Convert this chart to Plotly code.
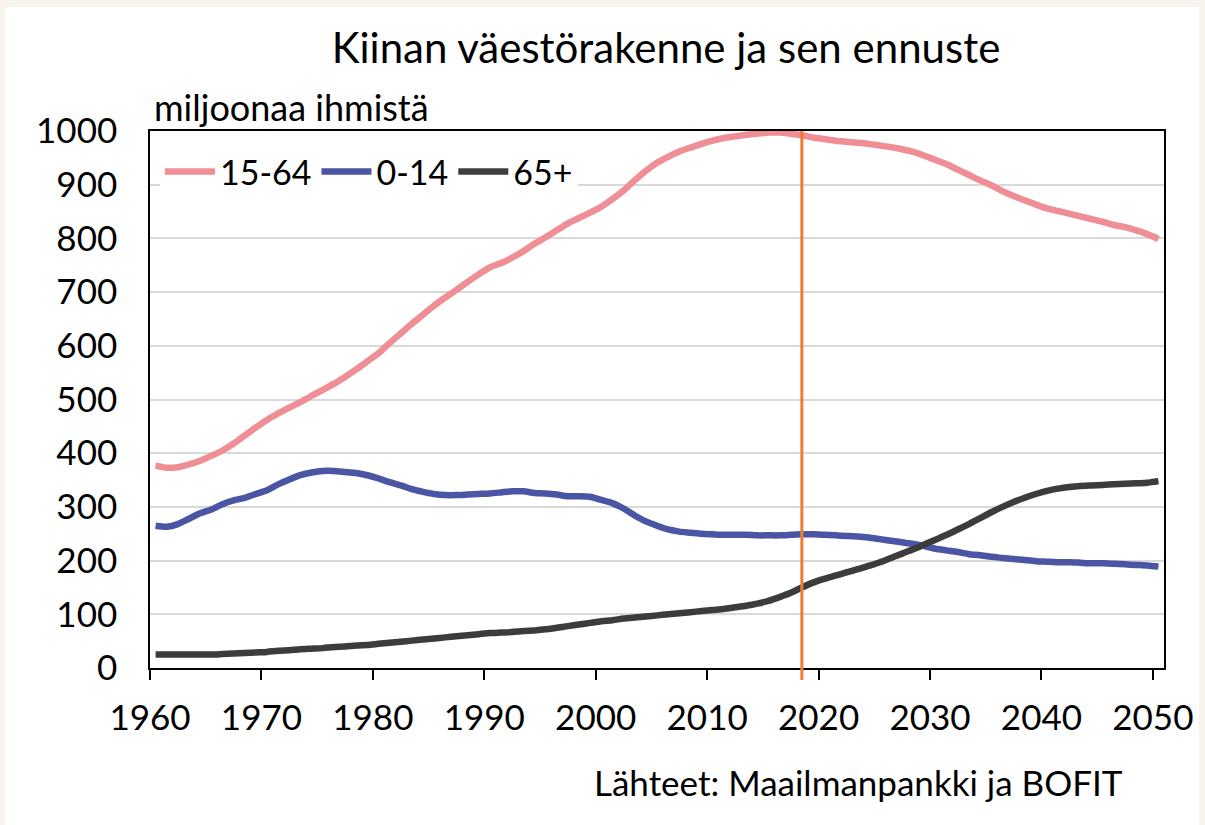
import plotly.graph_objects as go

years = list(range(1960, 2051))

working_age = [377, 373, 374, 379, 386, 395, 405, 418, 433, 448,
               462, 474, 485, 495, 507, 518, 529, 542, 556, 571,
               586, 605, 623, 641, 658, 675, 690, 704, 719, 733,
               746, 754, 764, 776, 790, 802, 815, 828, 838, 848,
               859, 873, 889, 908, 926, 941, 952, 962, 969, 976,
               982, 987, 990, 993, 995, 997, 997, 995, 992, 988,
               985, 982, 980, 978, 976, 973, 970, 966, 961, 954,
               946, 938, 928, 918, 908, 899, 888, 879, 871, 863,
               856, 851, 846, 841, 836, 831, 825, 821, 815, 808,
               799]

children = [265, 263, 268, 278, 288, 295, 305, 312, 317, 324,
            331, 342, 351, 359, 364, 367, 367, 365, 363, 359,
            353, 346, 340, 333, 328, 324, 322, 322, 323, 324,
            325, 327, 329, 329, 326, 325, 323, 320, 320, 319,
            313, 307, 297, 284, 273, 265, 258, 254, 252, 250,
            249, 248, 248, 248, 247, 247, 247, 248, 249, 249,
            248, 247, 246, 245, 243, 240, 237, 234, 231, 227,
            222, 219, 216, 212, 210, 207, 205, 203, 201, 199,
            198, 197, 197, 196, 195, 195, 194, 193, 192, 191,
            189]

elderly = [25, 25, 25, 25, 25, 25, 26, 27, 28, 29,
           30, 32, 33, 35, 36, 37, 39, 40, 42, 43,
           45, 47, 49, 51, 53, 55, 57, 59, 61, 63,
           65, 66, 67, 69, 70, 72, 75, 78, 81, 84,
           87, 89, 92, 94, 96, 98, 100, 102, 104, 106,
           108, 110, 113, 116, 120, 125, 132, 140, 150, 159,
           166, 172, 178, 184, 190, 197, 205, 213, 221, 230,
           239, 248, 258, 268, 279, 290, 300, 309, 317, 324,
           330, 334, 337, 339, 340, 341, 342, 343, 344, 345,
           348]

series_names = ["15-64", "0-14", "65+"]
series_colors = ["#F08E95", "#4A55A4", "#3C3C3C"]
x_tick_labels = [1960, 1970, 1980, 1990, 2000, 2010, 2020, 2030, 2040, 2050]
y_ticks = [0, 100, 200, 300, 400, 500, 600, 700, 800, 900, 1000]
forecast_year = 2018

FONT = "Lato"

fig = go.Figure()
for name, vals, col in zip(series_names, [working_age, children, elderly], series_colors):
    fig.add_trace(go.Scatter(
        x=years, y=vals, name=name, mode="lines",
        line=dict(color=col, width=6.5, shape="spline", smoothing=0.6),
    ))

# plot area in pixels: x 150..1167, y 131..668
L, R, T, B = 150, 1167, 131, 668
W, H = 1205, 825
pw, ph = R - L, B - T

def px_x(p):
    return (p - L) / pw

def px_y(p):
    return (B - p) / ph

shapes = [
    # white card over beige page background
    dict(type="rect", xref="paper", yref="paper", layer="below",
         x0=px_x(5), x1=px_x(1202), y0=px_y(830), y1=px_y(7),
         fillcolor="white", line=dict(width=0)),
    # forecast marker
    dict(type="line", xref="x", yref="paper", layer="above",
         x0=forecast_year, x1=forecast_year, y0=px_y(680), y1=1,
         line=dict(color="#ED7D31", width=3)),
]

fig.update_layout(
    width=W, height=H,
    margin=dict(l=L, r=W - R, t=T, b=H - B, pad=0),
    paper_bgcolor="#F8F3EC",
    plot_bgcolor="white",
    font=dict(family=FONT, color="black", size=35),
    title=dict(text="Kiinan väestörakenne ja sen ennuste",
               x=666 / W, y=1 - 48 / H, xanchor="center", yanchor="middle",
               xref="container", yref="container",
               font=dict(family=FONT, size=42, color="black")),
    showlegend=True,
    legend=dict(orientation="h", x=px_x(160), y=px_y(143),
                xanchor="left", yanchor="top",
                bgcolor="white", font=dict(family=FONT, size=34),
                itemwidth=50, tracegroupgap=0, traceorder="normal"),
    shapes=shapes,
    annotations=[
        dict(text="miljoonaa ihmistä", xref="paper", yref="paper",
             x=px_x(152), y=px_y(107), xanchor="left", yanchor="middle",
             showarrow=False, font=dict(family=FONT, size=36)),
        dict(text="Lähteet: Maailmanpankki ja BOFIT", xref="paper", yref="paper",
             x=px_x(861), y=px_y(782), xanchor="center", yanchor="middle",
             showarrow=False, font=dict(family=FONT, size=35)),
    ],
)

fig.update_xaxes(
    range=[years[0] - 0.5, years[-1] + 0.5],
    tickmode="array",
    tickvals=[v - 0.5 for v in x_tick_labels],
    ticktext=[str(v) for v in x_tick_labels],
    ticks="outside", ticklen=10, tickwidth=1.5, tickcolor="black",
    showline=True, linecolor="black", linewidth=1.5, mirror=True,
    showgrid=False, zeroline=False,
    tickfont=dict(family=FONT, size=35),
    ticklabelstandoff=8,
)
fig.update_yaxes(
    range=[0, 1000],
    tickmode="array", tickvals=y_ticks,
    ticks="", showline=True, linecolor="black", linewidth=1.5, mirror=True,
    showgrid=True, gridcolor="#D9D9D9", gridwidth=1.5, zeroline=False,
    tickfont=dict(family=FONT, size=35),
    ticklabelstandoff=24,
)

fig.write_html("out.html",
               config={"displayModeBar": False},
               post_script="document.body.style.margin='0px';")
